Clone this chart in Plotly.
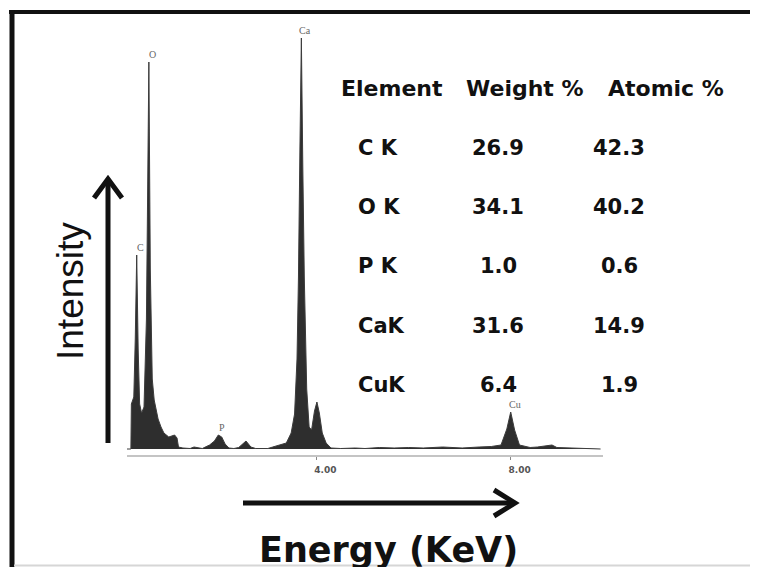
import plotly.graph_objects as go

# ---------------- data ----------------
energy_kev = [0.10, 0.18, 0.19, 0.24, 0.27, 0.30, 0.33, 0.36, 0.40, 0.45, 0.50, 0.55, 0.58,
              0.62, 0.66, 0.74, 0.80, 0.86, 0.96, 1.02, 1.08, 1.13, 1.16, 1.25, 1.40, 1.48,
              1.56, 1.65, 1.80, 1.90, 1.98, 2.05, 2.12, 2.20, 2.30, 2.40, 2.55, 2.65, 2.75,
              3.00, 3.10, 3.25, 3.38, 3.48, 3.55, 3.60, 3.63, 3.66, 3.69, 3.72, 3.75, 3.80,
              3.85, 3.90, 3.96, 4.01, 4.06, 4.12, 4.20, 4.30, 4.50, 4.80, 5.00, 5.30, 5.60,
              5.90, 6.20, 6.60, 7.00, 7.35, 7.60, 7.80, 7.92, 8.00, 8.08, 8.18, 8.40, 8.55,
              8.85, 8.95, 9.30, 9.60, 9.85]
counts = [0, 0, 450, 520, 1100, 1940, 1000, 450, 360, 420, 1300, 3870, 1800,
          700, 490, 300, 220, 160, 120, 130, 140, 110, 20, 10, 5, 20,
          15, 5, 40, 80, 140, 120, 50, 10, 5, 15, 80, 20, 5,
          5, 20, 40, 60, 160, 350, 900, 1720, 3000, 4110, 2800, 1720, 600,
          220, 190, 380, 470, 360, 160, 60, 10, 5, 10, 5, 15, 10,
          15, 10, 20, 10, 20, 25, 40, 200, 370, 190, 40, 15, 20,
          40, 15, 10, 5, 0]

peak_labels = ["C", "O", "Ca", "P", "Cu"]
peak_energy = [0.30, 0.55, 3.69, 1.98, 8.00]
peak_counts = [1940, 3870, 4110, 140, 370]

tick_values = [4, 8]
tick_labels = ["4.00", "8.00"]

table_header = ["Element", "Weight %", "Atomic %"]
elements = ["C K", "O K", "P K", "CaK", "CuK"]
weight_pct = ["26.9", "34.1", "1.0", "31.6", "6.4"]
atomic_pct = ["42.3", "40.2", "0.6", "14.9", "1.9"]

# ---------------- layout geometry (reference pixels) ----------------
W, H = 758, 567
OFF = 8              # page body margin in the browser
L, R = 127, 603      # plot area left/right
T, B = 30, 455       # plot area top/bottom


def px(xp):
    return (xp - L) / (R - L)


def py(yp):
    return (B - yp) / (B - T)


fig = go.Figure()
fig.add_trace(go.Scatter(
    x=energy_kev, y=counts, mode="lines", fill="tozeroy",
    line=dict(color="#3c3c3c", width=1), fillcolor="#2e2e2e",
    hoverinfo="skip", showlegend=False))

annotations = []
# peak labels
for lab, e, c in zip(peak_labels, peak_energy, peak_counts):
    annotations.append(dict(x=e, y=c, xref="x", yref="y", text=lab, showarrow=False,
                            yanchor="bottom", xshift=4, yshift=0,
                            font=dict(family="Liberation Serif", size=10, color="#666")))

# table
head_font = dict(family="DejaVu Sans", size=22, color="#111")
cell_font = dict(family="DejaVu Sans", size=21, color="#111")
for txt, cx in zip(table_header, [392, 525, 666]):
    annotations.append(dict(x=px(cx), y=py(88), xref="paper", yref="paper",
                            text="<b>" + txt + "</b>", showarrow=False,
                            xanchor="center", yanchor="middle", font=head_font))
row_y = [148, 207, 266, 326, 385]
for i, yy in enumerate(row_y):
    annotations.append(dict(x=px(356), y=py(yy), xref="paper", yref="paper",
                            text="<b>" + elements[i] + "</b>", showarrow=False,
                            xanchor="left", yanchor="middle", font=cell_font))
    annotations.append(dict(x=px(498), y=py(yy), xref="paper", yref="paper",
                            text="<b>" + weight_pct[i] + "</b>", showarrow=False,
                            xanchor="center", yanchor="middle", font=cell_font))
    annotations.append(dict(x=px(619), y=py(yy), xref="paper", yref="paper",
                            text="<b>" + atomic_pct[i] + "</b>", showarrow=False,
                            xanchor="center", yanchor="middle", font=cell_font))

# axis titles
annotations.append(dict(x=px(70), y=py(291), xref="paper", yref="paper", text="Intensity",
                        textangle=-90, showarrow=False, xanchor="center", yanchor="middle",
                        font=dict(family="Liberation Sans", size=37, color="#111")))
annotations.append(dict(x=px(388), y=py(550), xref="paper", yref="paper",
                        text="<b>Energy (KeV)</b>", showarrow=False,
                        xanchor="center", yanchor="middle",
                        font=dict(family="DejaVu Sans", size=35, color="#111")))

shapes = []
blk = dict(color="#111", width=5)
# vertical arrow
shapes.append(dict(type="line", xref="paper", yref="paper",
                   x0=px(108), y0=py(443), x1=px(108), y1=py(180), line=blk))
shapes.append(dict(type="path", xref="paper", yref="paper",
                   path=f"M {px(94)} {py(198)} L {px(108)} {py(179)} L {px(122)} {py(198)}",
                   line=blk))
# horizontal arrow
shapes.append(dict(type="line", xref="paper", yref="paper",
                   x0=px(243), y0=py(503), x1=px(514), y1=py(503), line=blk))
shapes.append(dict(type="path", xref="paper", yref="paper",
                   path=f"M {px(494)} {py(490)} L {px(515)} {py(503)} L {px(494)} {py(516)}",
                   line=blk))
# frame
shapes.append(dict(type="line", xref="paper", yref="paper",
                   x0=px(9), y0=py(12), x1=px(758), y1=py(12), line=dict(color="#111", width=4)))
shapes.append(dict(type="line", xref="paper", yref="paper",
                   x0=px(12), y0=py(10), x1=px(12), y1=py(567), line=dict(color="#111", width=5)))
shapes.append(dict(type="line", xref="paper", yref="paper",
                   x0=px(14), y0=py(565.5), x1=px(758), y1=py(565.5),
                   line=dict(color="#d6d6d6", width=2)))

fig.update_layout(
    width=W - OFF, height=H - OFF, autosize=False,
    margin=dict(l=L - OFF, r=W - R, t=T - OFF, b=H - B),
    paper_bgcolor="white", plot_bgcolor="white",
    showlegend=False,
    xaxis=dict(range=[0.1, 9.9], showgrid=False, zeroline=False,
               showline=True, linecolor="#c4c4c4", linewidth=2,
               ticks="outside", ticklen=3, tickcolor="#888", tickwidth=1,
               tickvals=tick_values, ticktext=["<b>" + t + "</b>" for t in tick_labels],
               tickfont=dict(family="DejaVu Sans", size=9, color="#555"),
               ticklabelshift=9, ticklabelstandoff=2),
    yaxis=dict(range=[-60, 4190], visible=False, showgrid=False, zeroline=False),
    annotations=annotations,
    shapes=shapes,
)

fig.write_html("out.html")
